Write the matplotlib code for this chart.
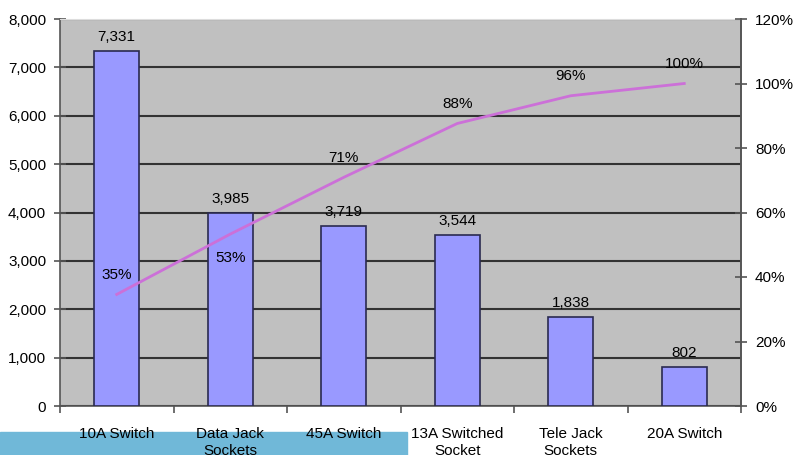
import matplotlib.pyplot as plt
from matplotlib.patches import Rectangle
from matplotlib.ticker import FuncFormatter, MultipleLocator

plt.rcParams['font.family'] = ['Liberation Sans', 'DejaVu Sans']

categories = ['10A Switch', 'Data Jack\nSockets', '45A Switch',
              '13A Switched\nSocket', 'Tele Jack\nSockets', '20A Switch']
counts = [7331, 3985, 3719, 3544, 1838, 802]
cum_pct = [34.6, 53.3, 70.9, 87.6, 96.2, 100.0]
# vertical offset (points) for each percent label
pct_offsets = [14, -17, 14, 14, 14, 14]

fig = plt.figure(figsize=(7.95, 4.55), dpi=100)
ax = fig.add_axes([60 / 795, 49 / 455, 681 / 795, 387 / 455])
ax.set_facecolor('#c0c0c0')

x = list(range(len(categories)))
bars = ax.bar(x, counts, width=0.4, color='#9999ff', edgecolor='#2a2a50',
              linewidth=1.2, zorder=3)
ax.bar_label(bars, labels=[f'{v:,}' for v in counts], padding=5, fontsize=11)

ax.set_xlim(-0.5, len(categories) - 0.5)
ax.set_ylim(0, 8000)
ax.yaxis.set_major_locator(MultipleLocator(1000))
ax.yaxis.set_major_formatter(FuncFormatter(lambda v, p: f'{int(v):,}'))
ax.grid(axis='y', color='#333333', linewidth=1.5)
ax.set_axisbelow(True)

ax.set_xticks(x)
ax.set_xticklabels(categories, fontsize=11, linespacing=1.3)
ax.set_xticks([i - 0.5 for i in range(len(categories) + 1)], minor=True)
ax.tick_params(axis='x', which='major', length=0, pad=15)
ax.tick_params(axis='x', which='minor', length=5, width=1.2, color='#555555',
               direction='out')
ax.tick_params(axis='y', direction='inout', length=8, width=1.2,
               color='#555555', labelsize=11, pad=6)

for side in ['left', 'bottom', 'right']:
    ax.spines[side].set_color('#555555')
    ax.spines[side].set_linewidth(1.2)
ax.spines['top'].set_color('#dddddd')

ax2 = ax.twinx()
ax2.set_ylim(0, 120)
ax2.yaxis.set_major_locator(MultipleLocator(20))
ax2.yaxis.set_major_formatter(FuncFormatter(lambda v, p: f'{int(v)}%'))
ax2.tick_params(axis='y', direction='inout', length=8, width=1.2,
                color='#555555', labelsize=11, pad=6)
ax2.spines['right'].set_color('#555555')
ax2.spines['right'].set_linewidth(1.2)
for side in ['left', 'top', 'bottom']:
    ax2.spines[side].set_visible(False)

ax2.plot(x, cum_pct, color='#cc70d8', linewidth=2, zorder=4)
for xi, p, off in zip(x, cum_pct, pct_offsets):
    ax2.annotate(f'{p:.0f}%', (xi, p), xytext=(0, off),
                 textcoords='offset points', ha='center', va='center',
                 fontsize=11)

# blue strip along the bottom edge
fig.patches.append(Rectangle((0, 0), 407 / 795, 23 / 455,
                             transform=fig.transFigure, color='#70b8d8',
                             zorder=-1))

fig.savefig('out.png', dpi=100)
